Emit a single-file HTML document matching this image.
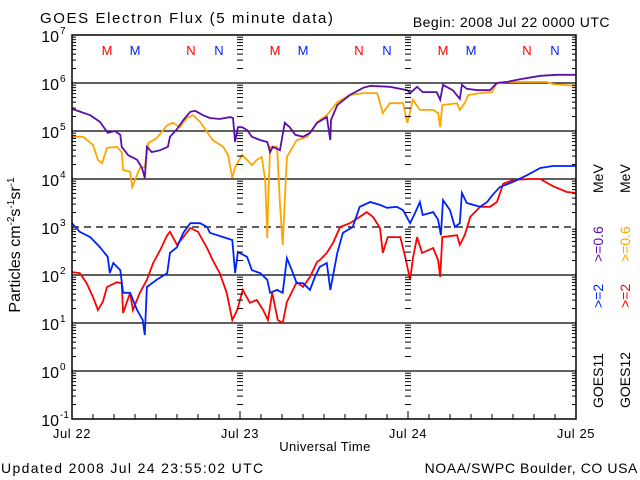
<!DOCTYPE html>
<html><head><meta charset="utf-8"><style>
html,body{margin:0;padding:0;background:#fff;}
svg{display:block;font-family:"Liberation Sans",sans-serif;}
</style></head><body>
<svg id="chart" width="640" height="480" viewBox="0 0 640 480">
<rect width="640" height="480" fill="#fff"/>
<text x="40" y="23" font-size="15" letter-spacing="1.6">GOES Electron Flux (5 minute data)</text>
<text x="610" y="27" font-size="14" text-anchor="end" letter-spacing="0.5">Begin: 2008 Jul 22 0000 UTC</text>
<text transform="translate(20,245) rotate(-90)" font-size="16" text-anchor="middle">Particles cm<tspan dy="-6" font-size="10">-2</tspan><tspan dy="6">s</tspan><tspan dy="-6" font-size="10">-1</tspan><tspan dy="6">sr</tspan><tspan dy="-6" font-size="10">-1</tspan></text>
<text x="325" y="451" font-size="13" text-anchor="middle" letter-spacing="0.4">Universal Time</text>
<text x="1" y="473" font-size="14" letter-spacing="1.35">Updated 2008 Jul 24 23:55:02 UTC</text>
<text x="638" y="473" font-size="14" text-anchor="end" letter-spacing="0.6">NOAA/SWPC Boulder, CO USA</text>
<g id="grid"></g>
<g id="series"></g>
<g id="axes"></g>
<g font-size="14">
<text transform="translate(603,408) rotate(-90)">GOES11</text>
<text transform="translate(603,308) rotate(-90)" fill="#0022ff">&gt;=2</text>
<text transform="translate(603,262) rotate(-90)" fill="#5a0fa8">&gt;=0.6</text>
<text transform="translate(603,193) rotate(-90)">MeV</text>
<text transform="translate(630,408) rotate(-90)">GOES12</text>
<text transform="translate(630,308) rotate(-90)" fill="#ff0000">&gt;=2</text>
<text transform="translate(630,262) rotate(-90)" fill="#ffa500">&gt;=0.6</text>
<text transform="translate(630,193) rotate(-90)">MeV</text>
</g>
</svg>
<script>
// data: hours since Jul 22 00:00, log10 flux
const g11_06_t=[0,2.6,4,5.1,6.1,6.9,7.1,8,9.3,10,10.4,10.7,11.4,12.6,13.7,14,15,15.9,16.9,17.6,18.7,19.7,21.1,22.6,23,23.3,23.7,24.3,25,25.7,26.9,27.9,28.3,28.7,29.7,30.4,31.1,31.9,33,34,35,35.7,36.4,36.9,37,37.9,39.7,41.6,42.6,45.4,47.9,48.3,49.3,50.1,52.1,52.6,53,54.4,55.4,55.7,56.4,57.9,59.7,60.7,62.1,64,66.9,69.3,71.9];
const g11_06_v=[5.46,5.33,5.19,4.96,5.0,4.92,4.67,4.5,4.4,4.23,4.02,4.67,4.56,4.6,4.67,4.88,5.04,5.23,5.4,5.42,5.33,5.27,5.25,5.29,5.27,4.77,5.08,5.08,5.02,4.88,4.81,4.77,4.56,4.67,4.6,5.17,5.08,4.92,4.88,4.96,5.17,5.23,5.29,4.81,5.23,5.54,5.75,5.9,5.94,5.92,5.85,5.79,5.92,5.81,5.81,5.65,5.96,5.85,5.67,5.96,5.88,5.85,5.85,6.0,6.02,6.08,6.15,6.17,6.17];
const g12_06_t=[0,1.6,3,3.7,4.3,5,6.4,7.1,7.3,8.3,8.6,9,9.7,10.4,10.9,12.1,13.6,14.4,15.4,16.4,17.3,18.3,19.3,20.1,21.6,22.3,22.9,23.3,24.3,25,25.7,26.4,27.1,27.6,27.9,28,28.3,29.3,29.7,30.1,30.7,32.1,33.6,35,35.4,36.4,37.9,39.7,41.6,43.6,44.4,45.4,47.3,47.9,48.7,49.7,51.6,52.3,52.6,52.9,55,55.4,56.1,56.6,58.3,60,60.7,61.6,67.9,68.7,71.9];
const g12_06_v=[4.88,4.88,4.71,4.4,4.33,4.65,4.67,4.56,4.19,4.15,3.83,3.98,4.23,4.25,4.75,4.85,5.12,5.17,5.08,5.27,5.33,5.19,4.98,4.81,4.67,4.5,4.02,4.25,4.5,4.4,4.29,4.4,4.46,3.98,2.77,3.42,4.67,4.67,3.5,2.63,4.46,4.81,4.88,5.17,5.23,5.33,5.6,5.75,5.79,5.79,5.37,5.58,5.58,5.17,5.65,5.44,5.44,5.37,5.08,5.54,5.58,5.44,5.58,5.75,5.79,5.81,6.0,6.02,6.02,5.98,5.94];
const g11_2_t=[0,1.1,2.6,4,5.1,5.4,5.9,6.9,7.3,8.3,9.3,10.1,10.4,10.7,12.1,13.6,14,15,15.9,16.9,18.3,19.3,19.7,21.6,22.9,23.3,23.7,25,25.7,26.9,27.9,28.3,29.3,30.1,30.7,31.4,32.1,33,34,34.7,35.4,36.4,36.9,37.9,38.7,40.1,41.1,42.6,44,45,46.4,47.3,48.3,49,49.7,50.1,51.6,52.3,52.7,53,54,54.7,55.4,55.7,56.4,58.3,59.3,60.1,61.1,63,65,66.9,68.7,71.9];
const g11_2_v=[3.08,2.9,2.79,2.58,2.38,2.04,2.25,2.1,1.63,1.63,1.27,1.06,0.75,1.75,1.9,2.04,2.46,2.58,2.88,3.08,3.08,3.0,2.88,2.79,2.73,2.04,2.48,2.38,2.1,2.04,1.9,1.63,1.69,1.63,2.35,2.1,1.83,1.83,1.69,1.96,2.17,2.25,1.69,2.46,2.88,3.0,3.42,3.52,3.46,3.4,3.42,3.35,3.08,3.29,3.52,3.25,3.31,3.15,2.83,3.56,3.35,3.0,3.08,3.71,3.5,3.42,3.52,3.67,3.83,3.94,4.08,4.23,4.27,4.27];
const g12_2_t=[0,1.1,2.1,3,3.7,4.4,5,6.4,7.1,7.3,8.3,8.7,9.7,10.7,11.6,12.6,13.6,14,15,15.9,16.9,18,19.3,20.1,21.1,22.1,22.9,23.6,24.4,25.4,26.4,27.3,28,28.6,29.4,30.1,30.7,32.1,33,34,35,35.4,36.4,37.3,38.3,39.7,41.1,42.1,43,44,44.4,45.1,46.9,47.6,48.3,48.7,49.3,50,51.6,52.3,52.6,52.9,55,55.4,56.1,56.9,58.3,59.7,60.7,61.6,63,65.4,66.9,68.7,70.7,71.9];
const g12_2_v=[2.06,2.04,1.83,1.54,1.27,1.44,1.75,1.85,1.83,1.21,1.63,1.27,1.63,1.9,2.25,2.52,2.83,2.9,2.63,2.79,2.98,2.9,2.56,2.31,2.04,1.63,1.06,1.27,1.69,1.42,1.48,1.27,1.06,1.63,1.06,1.0,1.44,1.85,1.75,1.96,2.27,2.31,2.46,2.67,3.0,3.08,3.21,3.31,3.21,2.98,2.46,2.79,2.79,2.38,1.9,2.35,2.79,2.46,2.56,2.31,1.96,2.79,2.83,2.63,2.83,3.21,3.42,3.42,3.52,3.9,3.98,4.0,4.0,3.85,3.73,3.71];
const yTicks=[-1,0,1,2,3,4,5,6,7];
const dayLabels=["Jul 22","Jul 23","Jul 24","Jul 25"];
const markLabels=["M","M","N","N"];
const markHours=[5,9,17,21];

const X0=72,X1=576,Y0=35,Y1=419;
const xs=h=>X0+(X1-X0)*h/72;
const ys=v=>Y0+(Y1-Y0)*(7-v)/8;
const NS="http://www.w3.org/2000/svg";
function mk(tag,attrs,parent){const e=document.createElementNS(NS,tag);for(const k in attrs)e.setAttribute(k,attrs[k]);parent.appendChild(e);return e;}
const grid=document.getElementById('grid'),axes=document.getElementById('axes'),ser=document.getElementById('series');

yTicks.forEach(v=>{
  if(v===7||v===-1)return;
  const l=mk('line',{x1:X0,x2:X1,y1:ys(v),y2:ys(v),stroke:'#000','stroke-width':1.3},grid);
  if(v===3)l.setAttribute('stroke-dasharray','7,5');
  
  
});
for(let d=-1;d<7;d++){
  for(let k=2;k<=9;k++){
    const y=ys(d+Math.log10(k));
    [[X0,X0+4],[X1-4,X1],[xs(24)-3,xs(24)+3],[xs(48)-3,xs(48)+3]].forEach(p=>{
      const t=mk('line',{x1:p[0],x2:p[1],y1:y,y2:y,stroke:'#000','stroke-width':1},axes);
      
      
    });
  }
}
const fr=mk('rect',{x:X0,y:Y0,width:X1-X0,height:Y1-Y0,fill:'none',stroke:'#000','stroke-width':1.5},axes);


for(let h=3;h<72;h+=3){
  const len=(h%24===0)?8:5;
  const t=mk('line',{x1:xs(h),x2:xs(h),y1:Y1,y2:Y1-len,stroke:'#000','stroke-width':1},axes);
  
  
}
dayLabels.forEach((s,i)=>{
  const t=mk('text',{x:xs(i*24),y:438,'font-size':13,'text-anchor':'middle','letter-spacing':0.6},axes);
  t.textContent=s;
  
  
});
yTicks.forEach(v=>{
  const t=mk('text',{x:59,y:ys(v)+7,'font-size':16,'text-anchor':'end'},axes);
  t.textContent='10';
  
  
  const s=mk('text',{x:60,y:ys(v)-1,'font-size':10},axes);
  s.textContent=String(v);
  
  
});
for(let d=0;d<3;d++){
  markHours.forEach((h,i)=>{
    const t=mk('text',{x:xs(d*24+h),y:55,'font-size':13,'text-anchor':'middle',fill:(i%2===0)?'#ff0000':'#0022ff'},axes);
    t.textContent=markLabels[i];
    
    
  });
}
function draw(ts,vs,color,name){
  let d='';
  ts.forEach((h,i)=>{d+=(i?'L':'M')+xs(h).toFixed(1)+','+ys(vs[i]).toFixed(1);});
  const p=mk('path',{d:d,fill:'none',stroke:color,'stroke-width':1.8,'stroke-linejoin':'miter'},ser);
  
  
}
draw(g12_06_t,g12_06_v,'#ffa500','series-goes12-0.6mev');
draw(g11_06_t,g11_06_v,'#5a0fa8','series-goes11-0.6mev');
draw(g12_2_t,g12_2_v,'#ff0000','series-goes12-2mev');
draw(g11_2_t,g11_2_v,'#0022ff','series-goes11-2mev');
</script>
</body></html>
